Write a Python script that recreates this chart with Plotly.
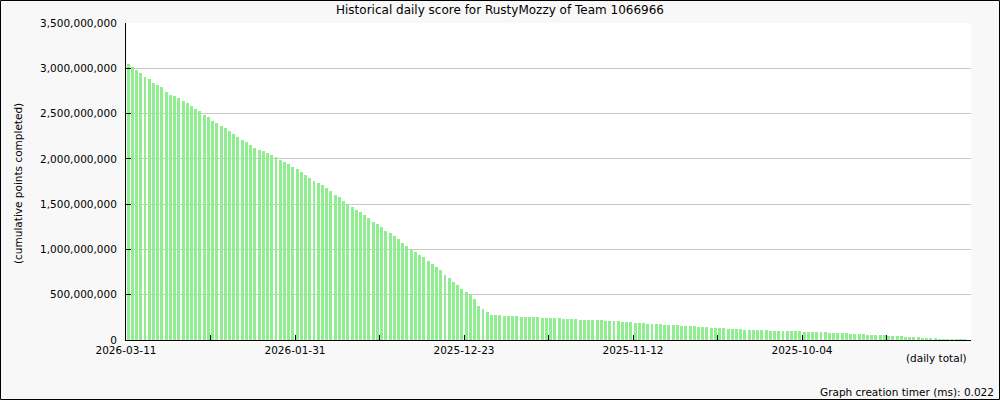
import plotly.graph_objects as go

# Cumulative points completed (millions), newest day first (2026-03-11 at left)
score_millions = [
    3048, 3018, 2985, 2952, 2908, 2883, 2839, 2817, 2788, 2740,
    2707, 2689, 2674, 2641, 2619, 2586, 2553, 2524, 2487, 2458,
    2421, 2392, 2366, 2344, 2311, 2278, 2245, 2212, 2190, 2158,
    2125, 2103, 2084, 2070, 2040, 2026, 1990, 1965, 1940, 1915,
    1890, 1859, 1826, 1793, 1759, 1737, 1715, 1681, 1648, 1604,
    1581, 1537, 1504, 1470, 1437, 1415, 1381, 1348, 1304, 1281,
    1248, 1204, 1181, 1148, 1115, 1070, 1037, 1004, 970, 937,
    915, 870, 837, 804, 775, 720, 686, 641, 608, 567,
    533, 496, 456, 378, 344, 311, 280, 278, 277, 268,
    267, 266, 266, 257, 256, 256, 255, 255, 245, 244,
    244, 244, 243, 234, 233, 233, 233, 223, 222, 222,
    222, 222, 222, 214, 212, 211, 210, 201, 200, 199,
    190, 189, 188, 179, 178, 178, 177, 168, 167, 166,
    165, 157, 156, 155, 155, 145, 144, 143, 134, 133,
    133, 132, 123, 122, 121, 121, 112, 111, 111, 110,
    110, 109, 101, 100, 100, 99, 99, 98, 98, 97,
    89, 88, 88, 87, 87, 86, 78, 77, 77, 76,
    76, 67, 66, 66, 65, 56, 55, 55, 54, 54,
    45, 44, 44, 43, 34, 33, 33, 32, 23, 22,
    22, 21, 12, 11, 11, 10, 10, 9, 6, 4,
]

tick_positions = [0, 20, 40, 60, 80, 100, 120, 140, 160, 180, 200]
tick_labels = ["2026-03-11", "", "2026-01-31", "", "2025-12-23", "",
               "2025-11-12", "", "2025-10-04", "", ""]

title_text = "Historical daily score for RustyMozzy of Team 1066966"
y_title = "(cumulative points completed)"
x_title = "(daily total)"
timer_text = "Graph creation timer (ms): 0.022"

scores = [v * 1_000_000 for v in score_millions]
bar_x = [i + 0.5 for i in range(len(scores))]

FONT = "DejaVu Sans"
L, R, T, B = 126, 29, 23, 60
W, H = 1000, 400
PW = W - L - R
PH = H - T - B


def px(p):
    return (p - L) / PW


def py(q):
    return (H - B - q) / PH


fig = go.Figure(go.Bar(
    x=bar_x, y=scores, width=0.7,
    marker=dict(color="#90ee90", line=dict(width=0)),
    hoverinfo="skip",
))

fig.update_layout(
    width=W, height=H,
    margin=dict(l=L, r=R, t=T, b=B, pad=0),
    paper_bgcolor="#f8f8f8",
    plot_bgcolor="#ffffff",
    showlegend=False,
    font=dict(family=FONT, size=10.5, color="#000000"),
    bargap=0,
)

fig.update_xaxes(
    range=[0, len(scores)],
    tickmode="array", tickvals=tick_positions, ticktext=tick_labels,
    ticks="inside", ticklen=5, tickcolor="#000000", tickwidth=1,
    showline=True, linecolor="#000000", linewidth=1,
    showgrid=False, zeroline=False,
    tickfont=dict(family=FONT, size=10.5, color="#000000"),
    ticklabelstandoff=0,
)

fig.update_yaxes(
    range=[0, 3.5e9], dtick=5e8, tick0=0,
    tickformat=",d",
    ticks="inside", ticklen=5, tickcolor="#000000", tickwidth=1,
    showline=True, linecolor="#000000", linewidth=1,
    showgrid=True, gridcolor="#c8c8c8", gridwidth=1,
    zeroline=False,
    tickfont=dict(family=FONT, size=10.5, color="#000000"),
    ticklabelstandoff=6,
)

fig.add_shape(type="rect", xref="paper", yref="paper",
              x0=px(0.5), x1=px(W - 0.5), y0=py(H - 0.5), y1=py(0.5),
              line=dict(color="#000000", width=1), fillcolor="rgba(0,0,0,0)",
              layer="above")

fig.add_annotation(text=title_text, xref="paper", yref="paper",
                   x=px(500), y=py(10), xanchor="center", yanchor="middle",
                   showarrow=False, font=dict(family=FONT, size=12, color="#000000"))
fig.add_annotation(text=y_title, xref="paper", yref="paper",
                   x=px(18), y=py(184), xanchor="center", yanchor="middle",
                   textangle=-90, showarrow=False,
                   font=dict(family=FONT, size=10.5, color="#000000"))
fig.add_annotation(text=x_title, xref="paper", yref="paper",
                   x=px(969), y=py(358), xanchor="right", yanchor="middle",
                   showarrow=False, font=dict(family=FONT, size=10.5, color="#000000"))
fig.add_annotation(text=timer_text, xref="paper", yref="paper",
                   x=px(996), y=py(392), xanchor="right", yanchor="middle",
                   showarrow=False, font=dict(family=FONT, size=10.5, color="#000000"))

fig.write_html("out.html",
               config={"displayModeBar": False, "staticPlot": True},
               post_script="document.body.style.margin='0px';"
                           "document.body.style.overflow='hidden';")
